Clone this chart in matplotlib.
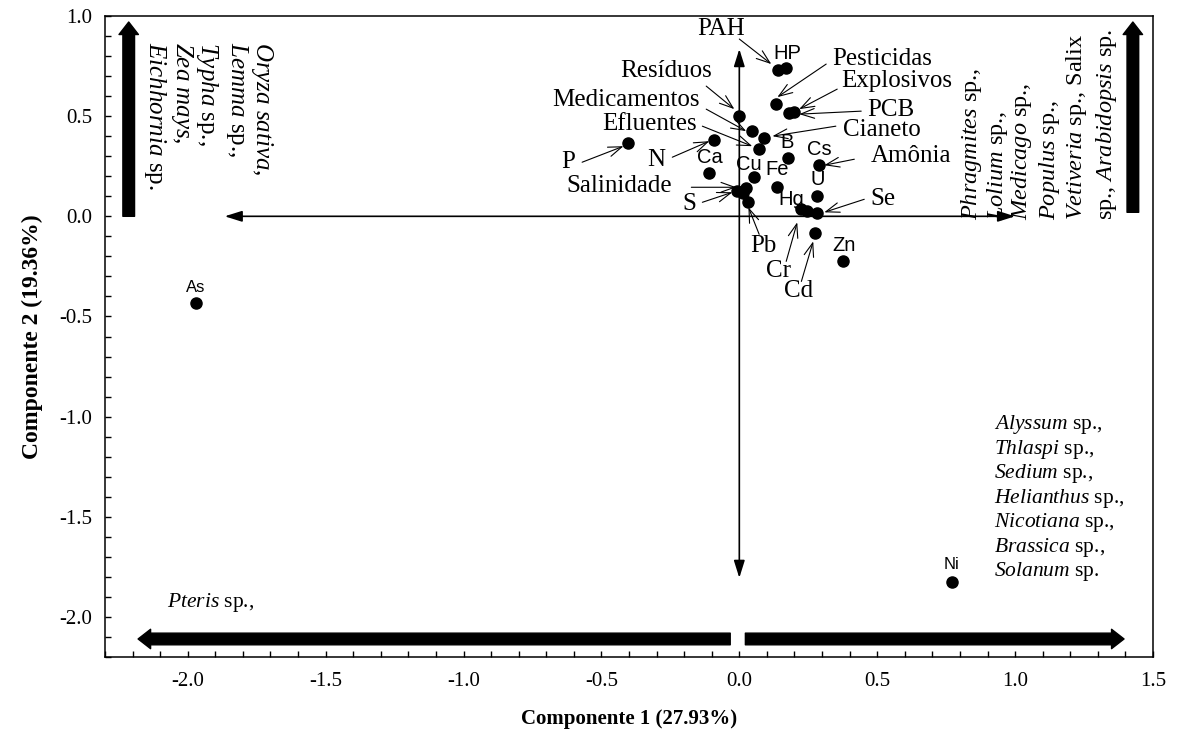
import matplotlib
matplotlib.use("Agg")
import matplotlib.pyplot as plt
from matplotlib.ticker import MultipleLocator, FormatStrFormatter

plt.rcParams['font.family'] = ['Liberation Serif', 'DejaVu Serif']
plt.rcParams['mathtext.fontset'] = 'custom'
plt.rcParams['mathtext.rm'] = 'Liberation Serif'
plt.rcParams['mathtext.it'] = 'Liberation Serif:italic'

# PCA scores (component 1, component 2)
score_x = [-1.97, 0.77, 0.375, 0.275, 0.28, 0.225, 0.245, 0.28, 0.138, 0.03,
           -0.007, 0.025, 0.015, 0.054, -0.11, 0.29, 0.175, 0.072, -0.09,
           -0.405, 0.09, 0.047, 0.0, 0.18, 0.20, 0.134, 0.14, 0.17]
score_y = [-0.435, -1.825, -0.225, -0.085, 0.015, 0.035, 0.025, 0.10, 0.145, 0.07,
           0.125, 0.14, 0.115, 0.195, 0.215, 0.255, 0.29, 0.335, 0.38,
           0.365, 0.39, 0.425, 0.50, 0.515, 0.52, 0.56, 0.73, 0.74]

# labels with leader arrows: text, text pos, arrow start, arrow end
lead_labels = ['PAH', 'Pesticidas', 'Explosivos', 'PCB', 'Cianeto', 'Amônia', 'Se',
               'Resíduos', 'Medicamentos', 'Efluentes', 'N', 'P', 'Salinidade', 'S',
               'Pb', 'Cr', 'Cd']
lead_pos = [(-0.065, 0.935), (0.518, 0.785), (0.569, 0.675), (0.551, 0.53),
            (0.518, 0.432), (0.623, 0.30), (0.522, 0.085), (-0.264, 0.725),
            (-0.41, 0.58), (-0.326, 0.46), (-0.30, 0.28), (-0.62, 0.27),
            (-0.435, 0.15), (-0.18, 0.06), (0.087, -0.15), (0.141, -0.275),
            (0.214, -0.375)]
lead_from = [(0.0, 0.885), (0.315, 0.76), (0.355, 0.635), (0.442, 0.525),
             (0.35, 0.45), (0.417, 0.285), (0.453, 0.085), (-0.12, 0.65),
             (-0.12, 0.535), (-0.134, 0.45), (-0.243, 0.295), (-0.57, 0.27),
             (-0.174, 0.145), (-0.134, 0.07), (0.072, -0.09), (0.17, -0.225),
             (0.225, -0.325)]
lead_to = [(0.116, 0.76), (0.138, 0.595), (0.217, 0.535), (0.217, 0.51),
           (0.12, 0.40), (0.308, 0.255), (0.308, 0.02), (-0.018, 0.535),
           (0.025, 0.425), (0.047, 0.35), (-0.109, 0.375), (-0.42, 0.35),
           (-0.011, 0.145), (-0.025, 0.12), (0.033, 0.045), (0.21, -0.03),
           (0.268, -0.125)]

# element labels drawn next to points
elem_labels = ['HP', 'Ca', 'Cu', 'Fe', 'B', 'Cs', 'U', 'Hg', 'Zn', 'As', 'Ni']
elem_pos = [(0.174, 0.815), (-0.105, 0.295), (0.036, 0.26), (0.138, 0.235),
            (0.174, 0.37), (0.29, 0.335), (0.283, 0.185), (0.188, 0.085),
            (0.38, -0.145), (-1.97, -0.355), (0.77, -1.74)]

species_left = [r'$\mathit{Oryza\ sativa}$,', r'$\mathit{Lemma}$ sp.,',
                r'$\mathit{Typha}$ sp.,', r'$\mathit{Zea\ mays}$,',
                r'$\mathit{Eichhornia}$ sp.']
species_right = [r'$\mathit{Phragmites}$ sp.,', r'$\mathit{Lolium}$ sp.,',
                 r'$\mathit{Medicago}$ sp.,', r'$\mathit{Populus}$ sp.,',
                 r'$\mathit{Vetiveria}$ sp., Salix', r'sp., $\mathit{Arabidopsis}$ sp.']
species_bottom = [r'$\mathit{Alyssum}$ sp.,', r'$\mathit{Thlaspi}$ sp.,',
                  r'$\mathit{Sedium}$ sp.,', r'$\mathit{Helianthus}$ sp.,',
                  r'$\mathit{Nicotiana}$ sp.,', r'$\mathit{Brassica}$ sp.,',
                  r'$\mathit{Solanum}$ sp.']
species_pteris = r'$\mathit{Pteris}$ sp.,'

fig = plt.figure(figsize=(11.8, 7.38), dpi=100)
ax = fig.add_axes([105 / 1180, 81 / 738, 1048 / 1180, 641 / 738])
ax.set_xlim(-2.3, 1.5)
ax.set_ylim(-2.2, 1.0)

for sp in ax.spines.values():
    sp.set_linewidth(1.1)
ax.xaxis.set_major_locator(MultipleLocator(0.5))
ax.xaxis.set_minor_locator(MultipleLocator(0.1))
ax.yaxis.set_major_locator(MultipleLocator(0.5))
ax.yaxis.set_minor_locator(MultipleLocator(0.1))
ax.xaxis.set_major_formatter(FormatStrFormatter('%.1f'))
ax.yaxis.set_major_formatter(FormatStrFormatter('%.1f'))
ax.tick_params(which='both', direction='in', length=4, width=1, labelsize=15)
ax.tick_params(axis='x', which='major', pad=11)
ax.tick_params(axis='y', which='major', pad=9)

ax.set_xlabel('Componente 1 (27.93%)', fontsize=15, fontweight='bold', labelpad=13)
ax.set_ylabel('Componente 2 (19.36%)', fontsize=17, fontweight='bold', labelpad=12)

# thin double-headed axes
thin = dict(arrowstyle='<|-|>,head_length=0.7,head_width=0.22', color='black',
            lw=1.2, mutation_scale=15, shrinkA=0, shrinkB=0)
ax.annotate('', xy=(1.0, 0.0), xytext=(-1.866, 0.0), arrowprops=thin)
ax.annotate('', xy=(0.0, 0.835), xytext=(0.0, -1.805), arrowprops=thin)

# thick arrows
thick = dict(arrowstyle='simple,head_length=0.45,head_width=0.7,tail_width=0.42',
             color='black', mutation_scale=20, shrinkA=0, shrinkB=0)
ax.annotate('', xy=(-2.214, 0.97), xytext=(-2.214, 0.0), arrowprops=thick)
ax.annotate('', xy=(1.427, 0.97), xytext=(1.427, 0.02), arrowprops=thick)
ax.annotate('', xy=(-2.18, -2.11), xytext=(-0.033, -2.11), arrowprops=thick)
ax.annotate('', xy=(1.395, -2.11), xytext=(0.022, -2.11), arrowprops=thick)

ax.plot(score_x, score_y, 'o', color='black', ms=8, zorder=5)

leader = dict(arrowstyle='->,head_length=0.7,head_width=0.25', color='black',
              lw=0.8, mutation_scale=14, shrinkA=0, shrinkB=0)
for lab, pos, a, b in zip(lead_labels, lead_pos, lead_from, lead_to):
    ax.text(pos[0], pos[1], lab, fontsize=18, ha='center', va='center')
    ax.annotate('', xy=b, xytext=a, arrowprops=leader)

for lab, pos in zip(elem_labels, elem_pos):
    fs = 12 if lab in ('As', 'Ni') else 14.5
    ax.text(pos[0], pos[1], lab, fontsize=fs, ha='center', va='center',
            family='Liberation Sans')

# rotated species lists
left_cols = [-1.732, -1.822, -1.931, -2.022, -2.12]
for s, cx in zip(species_left, left_cols):
    ax.text(cx, 0.87, s, rotation=-90, fontsize=18, ha='center', va='top')

right_cols = [0.841, 0.935, 1.025, 1.123, 1.221, 1.333]
for s, cx in zip(species_right, right_cols):
    ax.text(cx, -0.02, s, rotation=90, fontsize=17.5, ha='center', va='bottom')

for i, s in enumerate(species_bottom):
    ax.text(0.924, -1.04 - i * 0.1225, s, fontsize=15.5, ha='left', va='center')

ax.text(-2.076, -1.93, species_pteris, fontsize=15.5, ha='left', va='center')

fig.savefig('out.png', dpi=100)
